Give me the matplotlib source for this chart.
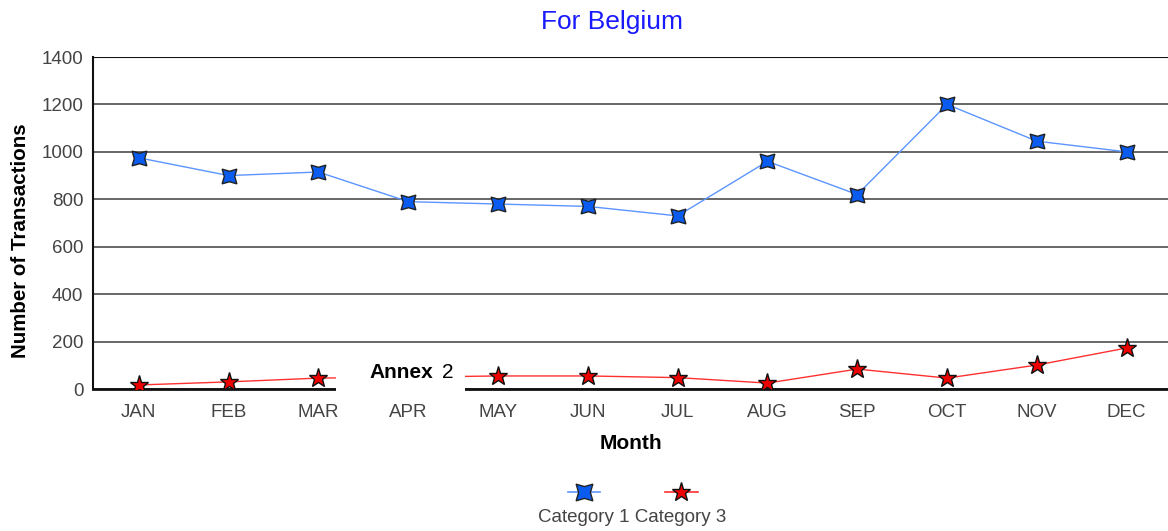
import matplotlib
matplotlib.use("Agg")
import matplotlib.pyplot as plt
import matplotlib.patches as patches
from matplotlib.lines import Line2D

plt.rcParams['font.family'] = ['Liberation Sans', 'DejaVu Sans']

# Data
months = ["JAN", "FEB", "MAR", "APR", "MAY", "JUN", "JUL", "AUG", "SEP", "OCT", "NOV", "DEC"]
category1 = [975, 900, 915, 790, 780, 770, 730, 960, 820, 1200, 1045, 1000]
category3 = [17, 30, 46, 50, 55, 55, 48, 25, 84, 46, 101, 173]
y_ticks = [0, 200, 400, 600, 800, 1000, 1200, 1400]
series_names = ["Category 1", "Category 3"]

blue_line = '#5c95ff'
blue_fill = '#0a5cf0'
red_line = '#ff3030'
red_fill = '#ee0000'
tick_col = '#444444'

W, H = 1168, 531
fig = plt.figure(figsize=(W / 100, H / 100), dpi=100)
ax = fig.add_axes([93 / W, (H - 389) / H, 1 - 93 / W, (389 - 57) / H])

x = list(range(len(months)))
ax.plot(x, category1, color=blue_line, lw=1.0, marker=(4, 1, 45), markersize=15,
        markerfacecolor=blue_fill, markeredgecolor='#222222', markeredgewidth=1, zorder=3)
ax.plot(x, category3, color=red_line, lw=1.0, marker='*', markersize=14,
        markerfacecolor=red_fill, markeredgecolor='#111111', markeredgewidth=1, zorder=3)

ax.set_xlim(-0.51, 11.46)
ax.set_ylim(0, 1400)
ax.set_yticks(y_ticks)
ax.set_xticks(x)
ax.set_xticklabels(months)
ax.tick_params(axis='both', length=0, labelsize=13.5, labelcolor=tick_col)
ax.tick_params(axis='x', pad=11)
ax.tick_params(axis='y', pad=7)
ax.yaxis.grid(True, color='#5a5a5a', lw=1.3)
ax.set_axisbelow(True)
for s in ['top', 'right']:
    ax.spines[s].set_visible(False)
ax.spines['left'].set_linewidth(1.5)
ax.spines['bottom'].set_linewidth(2)
ax.spines['left'].set_color('#111111')
ax.spines['bottom'].set_color('#111111')
ax.axhline(1400, color='#111111', lw=1.5, zorder=2)

ax.set_xlabel("Month", fontsize=15, fontweight='bold', labelpad=9)
ax.set_ylabel("Number of Transactions", fontsize=14.8, fontweight='bold')
ax.yaxis.set_label_coords((30 - 93) / (W - 93), (389 - 241) / 332)

fig.text(612 / W, 1 - 22 / H, "For Belgium", color='#1a1aff', fontsize=19,
         ha='center', va='center')

# Annex box hiding part of the plot
box = patches.Rectangle((336 / W, 1 - 403 / H), 129 / W, 45 / H, transform=fig.transFigure,
                        facecolor='white', edgecolor='none', zorder=10)
fig.add_artist(box)
fig.text(369 / W, 1 - 372 / H, "Annex", fontsize=15, fontweight='bold',
         ha='left', va='center', zorder=11)
fig.text(442 / W, 1 - 372 / H, "2", fontsize=15, ha='left', va='center', zorder=11)

# Legend (markers above labels)
fig.add_artist(Line2D([568 / W, 600 / W], [1 - 492 / H] * 2, color=blue_line, lw=1.2,
                      transform=fig.transFigure))
fig.add_artist(Line2D([584 / W], [1 - 492 / H], marker=(4, 1, 45), markersize=17,
                      markerfacecolor=blue_fill, markeredgecolor='#222222',
                      transform=fig.transFigure, linestyle='none'))
fig.add_artist(Line2D([665 / W, 698 / W], [1 - 492 / H] * 2, color=red_line, lw=1.2,
                      transform=fig.transFigure))
fig.add_artist(Line2D([681 / W], [1 - 492 / H], marker='*', markersize=14,
                      markerfacecolor=red_fill, markeredgecolor='#111111',
                      transform=fig.transFigure, linestyle='none'))
fig.text(632 / W, 1 - 517 / H, " ".join(series_names), fontsize=13.5, color=tick_col,
         ha='center', va='center')

fig.savefig("out.png", dpi=100)
